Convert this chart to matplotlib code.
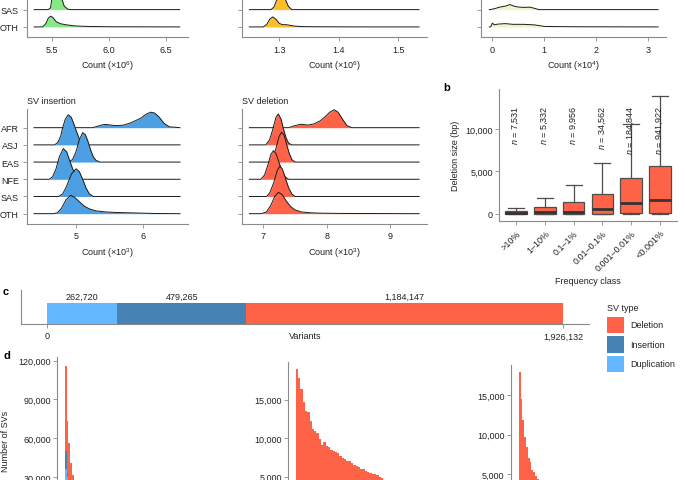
import numpy as np
import matplotlib
matplotlib.use("Agg")
import matplotlib.pyplot as plt
from matplotlib.patches import Rectangle

# ---- data ----
pops = ["OTH", "SAS", "NFE", "EAS", "ASJ", "AFR"]  # bottom -> top

# top row (only SAS / OTH rows are visible)
snv_ridges = {
    "SAS": ([5.347, 5.47, 5.49, 5.50, 5.52, 5.544, 5.57, 5.59, 5.61, 5.64, 5.67, 6.62],
            [0, 0, 0.1, 0.55, 1.3, 1.8, 1.3, 0.6, 0.2, 0.03, 0, 0]),
    "OTH": ([5.347, 5.42, 5.45, 5.47, 5.49, 5.51, 5.54, 5.58, 5.63, 5.70, 5.80, 6.0, 6.3, 6.62],
            [0, 0, 0.2, 0.5, 0.62, 0.55, 0.3, 0.18, 0.12, 0.06, 0.03, 0.01, 0.005, 0]),
}
indel_ridges = {
    "SAS": ([1.2496, 1.286, 1.291, 1.295, 1.301, 1.306, 1.310, 1.315, 1.321, 1.5348],
            [0, 0, 0.15, 0.5, 1.6, 1.2, 0.6, 0.2, 0, 0]),
    "OTH": ([1.2496, 1.273, 1.279, 1.284, 1.289, 1.295, 1.300, 1.306, 1.312, 1.318, 1.325, 1.338,
             1.36, 1.40, 1.45, 1.5348],
            [0, 0, 0.15, 0.45, 0.58, 0.42, 0.2, 0.13, 0.13, 0.09, 0.05, 0.02, 0.01, 0.005, 0, 0]),
}
mnv_ridges = {
    "SAS": ([-0.058, -0.04, 0.05, 0.15, 0.25, 0.34, 0.42, 0.50, 0.60, 0.73, 0.82, 0.90, 3.2],
            [0, 0, 0.06, 0.15, 0.2, 0.29, 0.2, 0.15, 0.13, 0.14, 0.07, 0, 0]),
    "OTH": ([-0.058, -0.03, 0.0, 0.04, 0.10, 0.25, 0.40, 0.60, 0.80, 0.90, 1.0, 1.2, 1.6, 2.2, 3.2],
            [0, 0, 0.22, 0.12, 0.16, 0.19, 0.15, 0.15, 0.12, 0.08, 0.03, 0.02, 0.01, 0.005, 0]),
}

ins_ridges = {
    "AFR": ([4.37, 5.25, 5.32, 5.40, 5.45, 5.52, 5.60, 5.70, 5.80, 5.90, 5.97, 6.05, 6.12, 6.18,
             6.25, 6.32, 6.40, 6.56],
            [0, 0, 0.08, 0.17, 0.19, 0.15, 0.12, 0.14, 0.25, 0.42, 0.55, 0.78, 0.9, 0.85, 0.6, 0.25,
             0.05, 0]),
    "ASJ": ([4.37, 4.68, 4.73, 4.77, 4.80, 4.84, 4.885, 4.93, 4.97, 5.01, 5.05, 5.10, 5.15, 6.56],
            [0, 0, 0.15, 0.5, 1.0, 1.5, 1.75, 1.6, 1.2, 0.75, 0.35, 0.1, 0, 0]),
    "EAS": ([4.37, 4.88, 4.95, 5.00, 5.05, 5.10, 5.14, 5.18, 5.22, 5.26, 5.30, 5.36, 6.56],
            [0, 0, 0.15, 0.6, 1.3, 1.71, 1.6, 1.2, 0.7, 0.3, 0.1, 0, 0]),
    "NFE": ([4.37, 4.60, 4.65, 4.70, 4.75, 4.81, 4.86, 4.90, 4.95, 5.00, 5.05, 5.10, 6.56],
            [0, 0, 0.15, 0.6, 1.3, 1.79, 1.6, 1.15, 0.6, 0.25, 0.06, 0, 0]),
    "SAS": ([4.37, 4.74, 4.80, 4.86, 4.93, 5.00, 5.05, 5.10, 5.15, 5.20, 5.26, 6.56],
            [0, 0, 0.15, 0.6, 1.3, 1.61, 1.45, 1.0, 0.5, 0.15, 0, 0]),
    "OTH": ([4.37, 4.66, 4.72, 4.78, 4.85, 4.92, 4.98, 5.05, 5.12, 5.20, 5.30, 5.45, 5.60, 5.80,
             6.0, 6.2, 6.56],
            [0, 0, 0.05, 0.3, 0.8, 1.07, 0.95, 0.7, 0.45, 0.28, 0.16, 0.1, 0.07, 0.05, 0.03, 0.01, 0]),
}
del_ridges = {
    "AFR": ([6.78, 7.40, 7.50, 7.60, 7.70, 7.80, 7.90, 7.98, 8.05, 8.12, 8.18, 8.25, 8.32, 8.40, 9.46],
            [0, 0, 0.12, 0.2, 0.15, 0.22, 0.4, 0.65, 0.9, 1.04, 0.9, 0.5, 0.12, 0, 0]),
    "ASJ": ([6.78, 7.04, 7.10, 7.15, 7.20, 7.237, 7.28, 7.32, 7.36, 7.40, 7.45, 9.46],
            [0, 0, 0.3, 0.9, 1.6, 1.8, 1.5, 0.9, 0.4, 0.1, 0, 0]),
    "EAS": ([6.78, 7.10, 7.15, 7.20, 7.25, 7.29, 7.33, 7.37, 7.41, 7.45, 7.50, 9.46],
            [0, 0, 0.25, 0.8, 1.5, 1.74, 1.55, 1.0, 0.5, 0.15, 0, 0]),
    "NFE": ([6.78, 6.96, 7.02, 7.07, 7.12, 7.16, 7.20, 7.25, 7.30, 7.35, 7.40, 9.46],
            [0, 0, 0.25, 0.8, 1.45, 1.66, 1.5, 0.95, 0.45, 0.12, 0, 0]),
    "SAS": ([6.78, 7.05, 7.10, 7.16, 7.22, 7.26, 7.30, 7.35, 7.40, 7.45, 7.50, 9.46],
            [0, 0, 0.2, 0.75, 1.5, 1.76, 1.6, 1.05, 0.5, 0.15, 0, 0]),
    "OTH": ([6.78, 6.97, 7.05, 7.12, 7.18, 7.24, 7.30, 7.36, 7.43, 7.50, 7.60, 7.75, 7.90, 8.2,
             8.6, 9.0, 9.46],
            [0, 0, 0.1, 0.5, 1.0, 1.24, 1.1, 0.75, 0.42, 0.22, 0.1, 0.05, 0.03, 0.015, 0.01, 0.005, 0]),
}

# panel b: deletion size by frequency class
freq_classes = [">10%", "1\u201310%", "0.1\u20131%", "0.01\u20130.1%", "0.001\u20130.01%", "<0.001%"]
n_dels = ["7,531", "5,332", "9,956", "34,562", "184,844", "941,922"]
box_q1 = [30, 40, 30, 40, 80, 80]
box_med = [170, 230, 220, 590, 1300, 1600]
box_q3 = [330, 790, 1370, 2350, 4240, 5600]
box_lo = [0, 0, 0, 0, 0, 0]
box_hi = [700, 1850, 3400, 5960, 10550, 13850]

# panel c: variant totals
sv_types = ["Deletion", "Insertion", "Duplication"]
sv_counts = [1184147, 479265, 262720]
sv_colors = ["#FF6347", "#4682B4", "#63B8FF"]

# panel d: size histograms (only the upper part is visible)
d_left_del = [66000, 40000, 56700, 40700, 31500, 25000]
d_left_ins = [14000, 3000, 0, 0, 0, 0]
d_left_dup = [36000, 30000, 0, 0, 0, 0]
d_mid = [19000, 17800, 16400, 14700, 13600, 13400, 12300, 11200, 11000, 10700, 9900, 9100,
         9500, 9000, 8800, 8500, 8400, 8200, 8100, 7700, 7400, 7300, 7100, 7000, 6800, 6550,
         6400, 6250, 6000, 5950, 5800, 5650, 5500, 5400, 5300, 5200, 5000, 4800, 4600, 4400]
d_right = [18000, 14600, 11900, 9700, 8400, 7100, 6500, 5550, 5300, 4800, 4400, 4100, 3800]

# ---- figure ----
plt.rcParams["font.family"] = ["Liberation Sans", "DejaVu Sans"]
plt.rcParams["font.size"] = 6.5
plt.rcParams["mathtext.fontset"] = "custom"
plt.rcParams["mathtext.rm"] = "Liberation Sans"
plt.rcParams["mathtext.it"] = "Liberation Sans:italic"

W, H = 685, 481
fig = plt.figure(figsize=(W / 100, H / 100), dpi=100)
GRAY = "#8a8a8a"
TXT = "#222222"


def px_axes(l, t, r, b):
    return fig.add_axes([l / W, 1 - b / H, (r - l) / W, (b - t) / H])


def px_text(x, y, s, **kw):
    fig.text(x / W, 1 - y / H, s, **kw)


def style(ax):
    for s in ("top", "right"):
        ax.spines[s].set_visible(False)
    for s in ("left", "bottom"):
        ax.spines[s].set_color(GRAY)
        ax.spines[s].set_linewidth(0.8)
    ax.tick_params(length=3, width=0.6, color=GRAY, labelsize=6.5, labelcolor=TXT)
    ax.tick_params(axis="x", pad=2.3)
    ax.tick_params(axis="y", pad=3.0)


def ridges(ax, data, color, xlim, xticks, xticklabels, xlabel, show_labels):
    for row in range(len(pops) - 1, -1, -1):
        pop = pops[row]
        if pop not in data:
            continue
        x = np.array(data[pop][0])
        h = np.array(data[pop][1])
        ax.fill_between(x, row, row + h, color=color, lw=0, zorder=2 * (6 - row))
        ax.plot(x, row + h, color="#1a1a1a", lw=0.7, zorder=2 * (6 - row) + 1)
    style(ax)
    ax.set_xlim(*xlim)
    ax.set_ylim(-0.6, 6.1)
    ax.set_xticks(xticks)
    ax.set_xticklabels(xticklabels)
    rows = [pops.index(p) for p in data]
    ax.set_yticks(rows)
    ax.set_yticklabels([pops[r] for r in rows] if show_labels else [])
    ax.set_xlabel(xlabel, fontsize=6.5, labelpad=3.6, color=TXT)


# top row, extends above the crop
TOP_B, MID_B = 38.3, 225
ax = px_axes(27.3, TOP_B - 6.7 * 17.3, 187.7, TOP_B)
ridges(ax, snv_ridges, "#86E886", (5.287, 6.69), [5.5, 6.0, 6.5], ["5.5", "6.0", "6.5"],
       r"Count (×10$^{6}$)", True)
ax = px_axes(241.7, TOP_B - 6.7 * 17.3, 426.7, TOP_B)
ridges(ax, indel_ridges, "#FDBE28", (1.2368, 1.5477), [1.3, 1.4, 1.5], ["1.3", "1.4", "1.5"],
       r"Count (×10$^{6}$)", False)
ax = px_axes(480.7, TOP_B - 6.7 * 17.3, 666, TOP_B)
ridges(ax, mnv_ridges, "#F2F2C4", (-0.224, 3.353), [0, 1, 2, 3], ["0", "1", "2", "3"],
       r"Count (×10$^{4}$)", False)

# middle row: SV insertion / deletion
ax = px_axes(27.3, MID_B - 6.7 * 17.2, 187.7, MID_B)
ridges(ax, ins_ridges, "#4C9FE3", (4.27, 6.675), [5, 6], ["5", "6"], r"Count (×10$^{3}$)", True)
px_text(27.3, 101.7, "SV insertion", fontsize=6.5, va="center", ha="left", color=TXT)
ax = px_axes(241.7, MID_B - 6.7 * 17.2, 426.7, MID_B)
ridges(ax, del_ridges, "#FF6347", (6.659, 9.58), [7, 8, 9], ["7", "8", "9"],
       r"Count (×10$^{3}$)", False)
px_text(241.7, 101.7, "SV deletion", fontsize=6.5, va="center", ha="left", color=TXT)

# panel b
axb = px_axes(499, 90, 677, 221.7)
pos = np.arange(1, len(freq_classes) + 1)
stats = [dict(q1=a, med=m, q3=c, whislo=lo, whishi=hi, fliers=[])
         for a, m, c, lo, hi in zip(box_q1, box_med, box_q3, box_lo, box_hi)]
axb.bxp(stats, positions=pos, widths=0.75, patch_artist=True, showfliers=False,
        capwidths=0.55,
        boxprops=dict(facecolor="#FF6347", edgecolor="#4d4d4d", lw=0.9),
        medianprops=dict(color="#333333", lw=2.0),
        whiskerprops=dict(color="#4d4d4d", lw=0.9),
        capprops=dict(color="#4d4d4d", lw=0.9))
style(axb)
axb.tick_params(axis="y", pad=1.5)
axb.set_xlim(0.41, 6.59)
axb.set_ylim(-788, 14700)
axb.set_yticks([0, 5000, 10000])
axb.set_yticklabels(["0", "5,000", "10,000"])
axb.set_xticks(pos)
axb.set_xticklabels(freq_classes, rotation=45, ha="right", va="top", rotation_mode="anchor")
axb.set_xlabel("Frequency class", fontsize=6.5, color=TXT, labelpad=3)
axb.set_ylabel("Deletion size (bp)", fontsize=6.5, color=TXT, labelpad=4)
for p, n in zip(pos, n_dels):
    axb.text(p, 12900, r"$n$ = " + n, rotation=90, ha="center", va="top", fontsize=6.5, color=TXT)
px_text(447, 88, "b", fontsize=8, fontweight="bold", va="center", ha="center")

# panel c
axc = px_axes(21.3, 291, 589, 325)
total = sum(sv_counts)
left = 0
for name, cnt, col in zip(sv_types[::-1], sv_counts[::-1], sv_colors[::-1]):
    axc.barh(0.5, cnt, height=1.0, left=left, color=col, lw=0)
    axc.text(left + cnt / 2, 1.32, f"{cnt:,}", ha="center", va="center", fontsize=6.5, color=TXT)
    left += cnt
style(axc)
axc.set_xlim(-0.05 * total, 1.05 * total)
axc.set_ylim(0, 1.62)
axc.set_yticks([])
axc.set_xticks([0, total])
axc.set_xticklabels(["0", f"{total:,}"])
axc.text(0.5, -0.34, "Variants", transform=axc.transAxes, ha="center", va="center",
         fontsize=6.5, color=TXT)
px_text(3, 292, "c", fontsize=8, fontweight="bold", va="center", ha="left")

# legend
px_text(606.7, 309, "SV type", fontsize=6.5, va="center", ha="left", color=TXT)
for i, (name, col) in enumerate(zip(sv_types, sv_colors)):
    top = 317.7 + i * 19.5
    fig.patches.append(Rectangle((606.7 / W, 1 - (top + 16.6) / H), 17.7 / W, 16.6 / H,
                                 transform=fig.transFigure, color=col, lw=0))
    px_text(630.2, top + 8.3, name, fontsize=6.5, va="center", ha="left", color=TXT)

# panel d
px_text(3, 356, "d", fontsize=8, fontweight="bold", va="center", ha="left")


def d_axes(l, r, top, bottom0, ymax, start, w, ticks):
    ax = px_axes(l, top, r, bottom0)
    style(ax)
    ax.spines["bottom"].set_visible(False)
    ax.set_xlim((l - start) / w, (r - start) / w)
    ax.set_ylim(0, ymax)
    ax.set_xticks([])
    ax.set_yticks(ticks)
    ax.set_yticklabels([f"{t:,}" for t in ticks])
    ax.tick_params(axis="y", pad=1.5)
    return ax


axd1 = d_axes(57.3, 226, 358, 516.8, 122860, 65, 1.7, [30000, 60000, 90000, 120000])
idx = np.arange(len(d_left_del))
axd1.bar(idx, d_left_dup, width=1, align="edge", color=sv_colors[2], lw=0)
axd1.bar(idx, d_left_ins, width=1, align="edge", bottom=d_left_dup, color=sv_colors[1], lw=0)
axd1.bar(idx, d_left_del, width=1, align="edge",
         bottom=np.array(d_left_dup) + np.array(d_left_ins), color=sv_colors[0], lw=0)
px_text(6, 441, "Number of SVs", fontsize=6.5, rotation=90, va="center", ha="center", color=TXT)

axd2 = d_axes(288.3, 457, 363, 516.2, 19900, 295.7, 2.3, [5000, 10000, 15000])
axd2.bar(np.arange(len(d_mid)), d_mid, width=1, align="edge", color=sv_colors[0], lw=0)

axd3 = d_axes(510.7, 680, 366, 514.3, 18870, 518.7, 1.8, [5000, 10000, 15000])
axd3.bar(np.arange(len(d_right)), d_right, width=1, align="edge", color=sv_colors[0], lw=0)

fig.savefig("out.png", dpi=100)
